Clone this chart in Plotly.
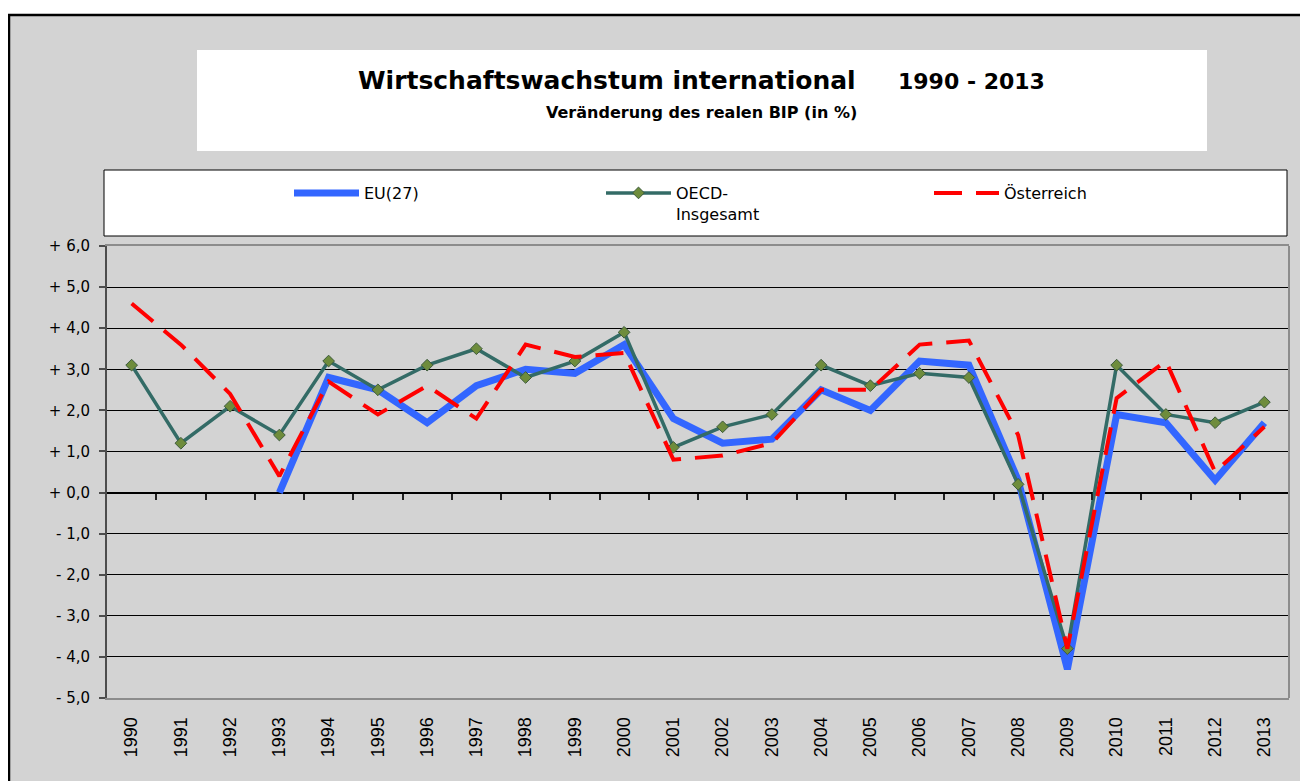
import plotly.graph_objects as go

# ---------------- data ----------------
years = ["1990", "1991", "1992", "1993", "1994", "1995", "1996", "1997", "1998", "1999",
         "2000", "2001", "2002", "2003", "2004", "2005", "2006", "2007", "2008", "2009",
         "2010", "2011", "2012", "2013"]
eu27 = [None, None, None, 0.0, 2.8, 2.5, 1.7, 2.6, 3.0, 2.9,
        3.6, 1.8, 1.2, 1.3, 2.5, 2.0, 3.2, 3.1, 0.3, -4.3,
        1.9, 1.7, 0.3, 1.7]
oecd = [3.1, 1.2, 2.1, 1.4, 3.2, 2.5, 3.1, 3.5, 2.8, 3.2,
        3.9, 1.1, 1.6, 1.9, 3.1, 2.6, 2.9, 2.8, 0.2, -3.8,
        3.1, 1.9, 1.7, 2.2]
austria = [4.6, 3.6, 2.4, 0.4, 2.7, 1.9, 2.6, 1.8, 3.6, 3.3,
           3.4, 0.8, 0.9, 1.2, 2.5, 2.5, 3.6, 3.7, 1.4, -3.8,
           2.3, 3.2, 0.5, 1.6]
y_tick_vals = [-5, -4, -3, -2, -1, 0, 1, 2, 3, 4, 5, 6]
y_tick_text = ["- 5,0", "- 4,0", "- 3,0", "- 2,0", "- 1,0", "+ 0,0",
               "+ 1,0", "+ 2,0", "+ 3,0", "+ 4,0", "+ 5,0", "+ 6,0"]
series_names = ["EU(27)", "OECD-<br>Insgesamt", "Österreich"]
title_main = "Wirtschaftswachstum international"
title_years = "1990 - 2013"
subtitle = "Veränderung des realen BIP (in %)"

# ---------------- layout geometry (page pixels) ----------------
OFF = 8                      # default body margin of the html page
PAGE_W, PAGE_H = 1308, 781
W, H = PAGE_W - OFF, PAGE_H - OFF
L, R, T, B = 107, 1289, 246, 698   # plot area in page pixels
PW, PH = R - L, B - T


def px(xp):
    return (xp - L) / PW


def py(yp):
    return (B - yp) / PH


GRAY = "#D3D3D3"
FONT = "DejaVu Sans"

fig = go.Figure()

fig.add_trace(go.Scatter(
    x=years, y=eu27, name=series_names[0], mode="lines",
    line=dict(color="#3366FF", width=7), legend="legend",
    connectgaps=False))
fig.add_trace(go.Scatter(
    x=years, y=oecd, name=series_names[1], mode="lines+markers",
    line=dict(color="#336B66", width=3.5),
    marker=dict(symbol="diamond", size=9, color="#6E8C3C",
                line=dict(color="#3C5A3C", width=1)),
    legend="legend2"))
fig.add_trace(go.Scatter(
    x=years, y=austria, name=series_names[2], mode="lines",
    line=dict(color="#FF0000", width=4, dash="28px,14px"),
    legend="legend3"))
# helper trace so the tick axis on the zero line is rendered
fig.add_trace(go.Scatter(
    x=[0, len(years) - 1], y=[None, None], xaxis="x2", yaxis="y",
    mode="lines", showlegend=False, hoverinfo="skip"))

n = len(years)
boundary_ticks = [i + 0.5 for i in range(n)]

shapes = [
    # outer chart frame
    dict(type="rect", xref="paper", yref="paper",
         x0=px(9), x1=px(1330), y0=py(810), y1=py(15),
         fillcolor=GRAY, line=dict(color="black", width=2.5), layer="below"),
    # title box
    dict(type="rect", xref="paper", yref="paper",
         x0=px(197), x1=px(1207), y0=py(151), y1=py(50),
         fillcolor="white", line=dict(width=0), layer="below"),
    # legend box
    dict(type="rect", xref="paper", yref="paper",
         x0=px(104), x1=px(1287), y0=py(236), y1=py(170),
         fillcolor="white", line=dict(color="black", width=1), layer="below"),
]

annotations = [
    dict(text="<b>" + title_main + "</b>", xref="paper", yref="paper",
         x=px(356), y=py(80), xanchor="left", yanchor="middle", showarrow=False,
         font=dict(family=FONT, size=25, color="black")),
    dict(text="<b>" + title_years + "</b>", xref="paper", yref="paper",
         x=px(1047), y=py(81), xanchor="right", yanchor="middle", showarrow=False,
         font=dict(family=FONT, size=22, color="black")),
    dict(text="<b>" + subtitle + "</b>", xref="paper", yref="paper",
         x=px(701.5), y=py(112), xanchor="center", yanchor="middle", showarrow=False,
         font=dict(family=FONT, size=16, color="black")),
]

leg_common = dict(bgcolor="rgba(0,0,0,0)", borderwidth=0, itemwidth=65,
                  font=dict(family=FONT, size=16, color="black"),
                  yanchor="top", xanchor="left", valign="top", y=py(176))

fig.update_layout(
    width=W, height=H,
    margin=dict(l=L - OFF, r=W - (R - OFF), t=T - OFF, b=H - (B - OFF), pad=0),
    paper_bgcolor="white", plot_bgcolor=GRAY,
    showlegend=True,
    legend=dict(x=px(289), **leg_common),
    legend2=dict(x=px(601), **leg_common),
    legend3=dict(x=px(929), **leg_common),
    shapes=shapes, annotations=annotations,
    xaxis=dict(type="category", categoryorder="array", categoryarray=years,
               range=[-0.5, n - 0.5], showgrid=False, zeroline=False,
               showline=True, linecolor="#8C8C8C", linewidth=2, mirror=True,
               ticks="", tickangle=-90, ticklabelstandoff=10,
               tickfont=dict(family="Liberation Sans", size=18, color="black")),
    xaxis2=dict(overlaying="x", anchor="free", position=5 / 11, side="bottom",
                range=[-0.5, n - 0.5], tickmode="array", tickvals=boundary_ticks,
                ticks="outside", ticklen=6, tickwidth=1.5, tickcolor="#222",
                showticklabels=False, showgrid=False, zeroline=False, showline=False),
    yaxis=dict(range=[-5, 6], tickmode="array", tickvals=y_tick_vals, ticktext=y_tick_text,
               showgrid=True, gridcolor="black", gridwidth=1,
               zeroline=True, zerolinecolor="black", zerolinewidth=1.5,
               showline=True, linecolor="#4D4D4D", linewidth=2,
               ticks="outside", ticklen=6, tickwidth=1.5, tickcolor="#4D4D4D",
               ticklabelstandoff=6,
               tickfont=dict(family=FONT, size=15, color="black")),
)

# right border of plot area (lighter than left axis)
fig.add_shape(type="line", xref="paper", yref="paper", x0=1, x1=1, y0=0, y1=1,
              line=dict(color="#8C8C8C", width=2))

fig.write_html("out.html")
